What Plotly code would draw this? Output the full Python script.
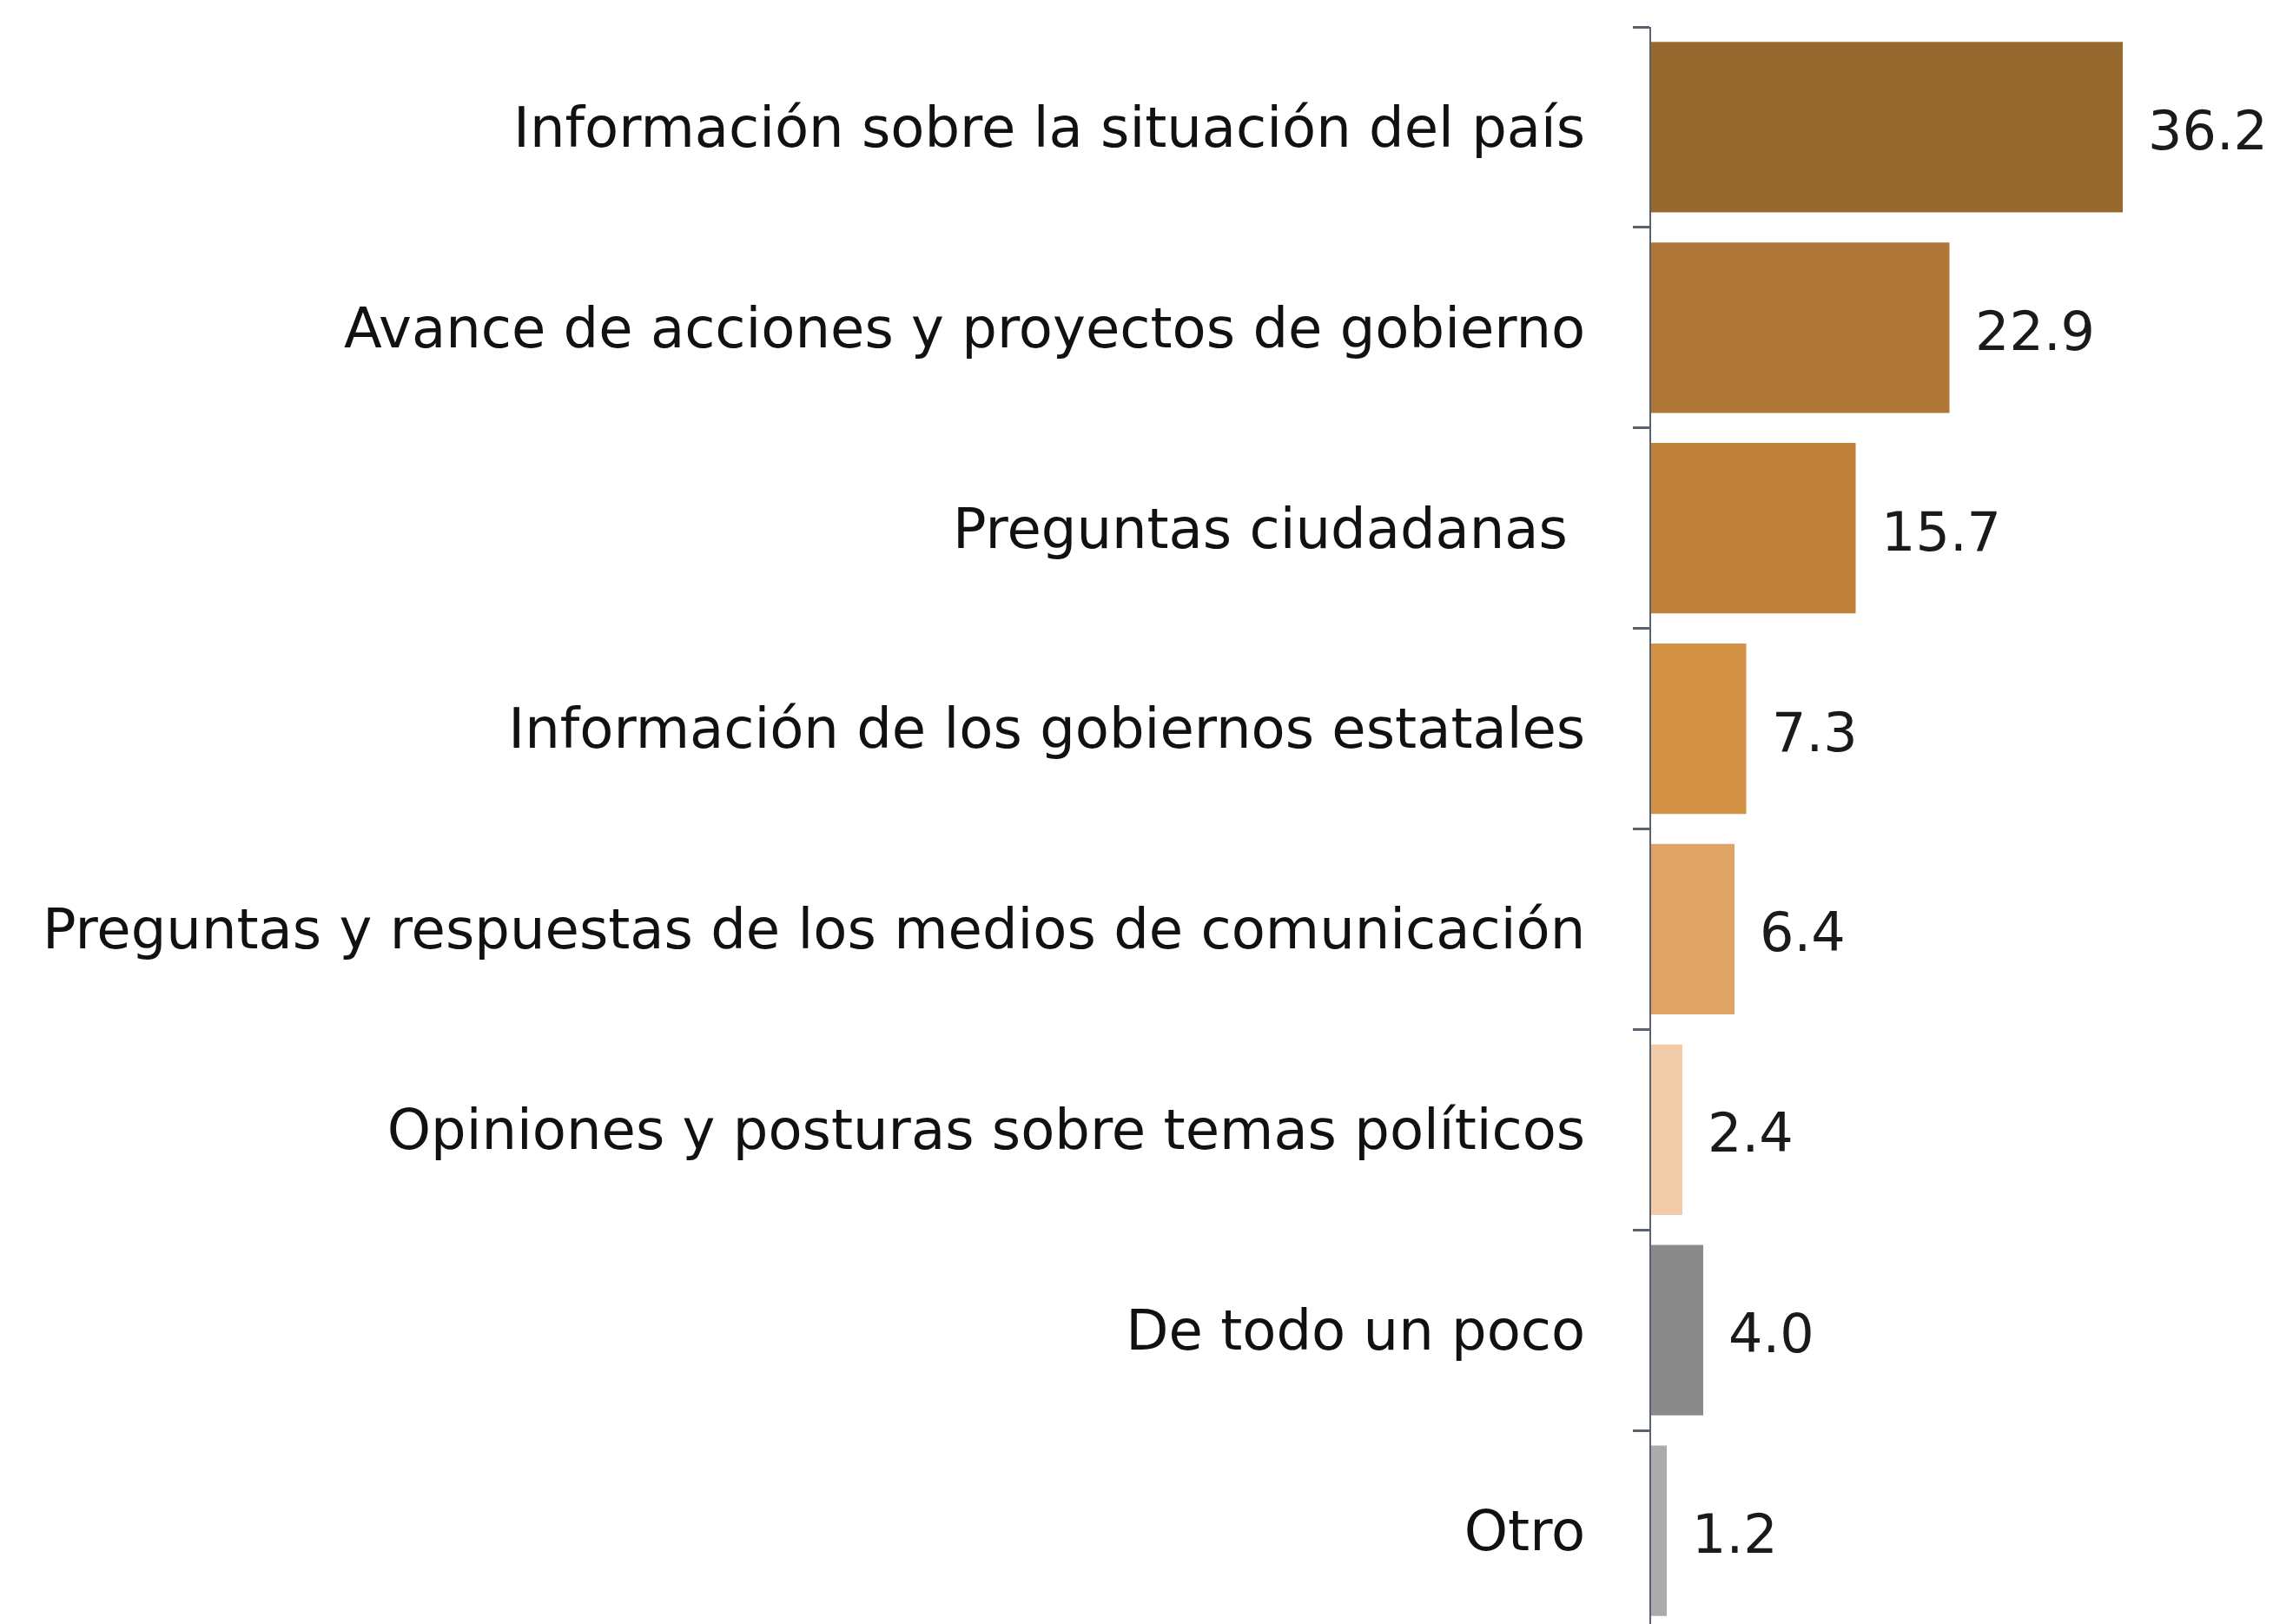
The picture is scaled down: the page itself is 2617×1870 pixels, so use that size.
import plotly.graph_objects as go

categories = [
    "Información sobre la situación del país",
    "Avance de acciones y proyectos de gobierno",
    "Preguntas ciudadanas ",
    "Información de los gobiernos estatales",
    "Preguntas y respuestas de los medios de comunicación",
    "Opiniones y posturas sobre temas políticos",
    "De todo un poco",
    "Otro",
]
values = [36.2, 22.9, 15.7, 7.3, 6.4, 2.4, 4.0, 1.2]
value_labels = ["36.2", "22.9", "15.7", "7.3", "6.4", "2.4", "4.0", "1.2"]
colors = ["#97692F", "#AE7737", "#C0823B", "#D39243", "#E0A366", "#F2CCAA", "#8A8A8A", "#ABABAB"]

FONT = "DejaVu Sans"
FS_LABEL = 64
FS_VALUE = 62

fig = go.Figure()
fig.add_trace(go.Bar(
    x=values,
    y=categories,
    orientation="h",
    marker=dict(color=colors, line=dict(width=0)),
    hoverinfo="skip",
))

for v, c, lab in zip(values, categories, value_labels):
    fig.add_annotation(
        x=v, y=c, text=lab, showarrow=False,
        xanchor="left", yanchor="middle", xshift=27, yshift=-4,
        font=dict(family=FONT, size=FS_VALUE, color="#1a1a1a"),
    )

fig.update_layout(
    width=2617, height=1870,
    margin=dict(l=1893, r=10, t=23, b=0),
    paper_bgcolor="white", plot_bgcolor="white",
    bargap=0.15,
    showlegend=False,
    font=dict(family=FONT, size=FS_LABEL, color="#111111"),
)
fig.update_xaxes(visible=False, range=[0, 47.6])
fig.update_yaxes(
    autorange="reversed",
    showline=True, linecolor="#596070", linewidth=2,
    ticks="outside", ticklen=19, tickwidth=3, tickcolor="#596070",
    tickson="boundaries",
    ticklabelstandoff=61,
    tickfont=dict(family=FONT, size=FS_LABEL, color="#111111"),
    showgrid=False, zeroline=False,
)

fig.write_html("out.html")
